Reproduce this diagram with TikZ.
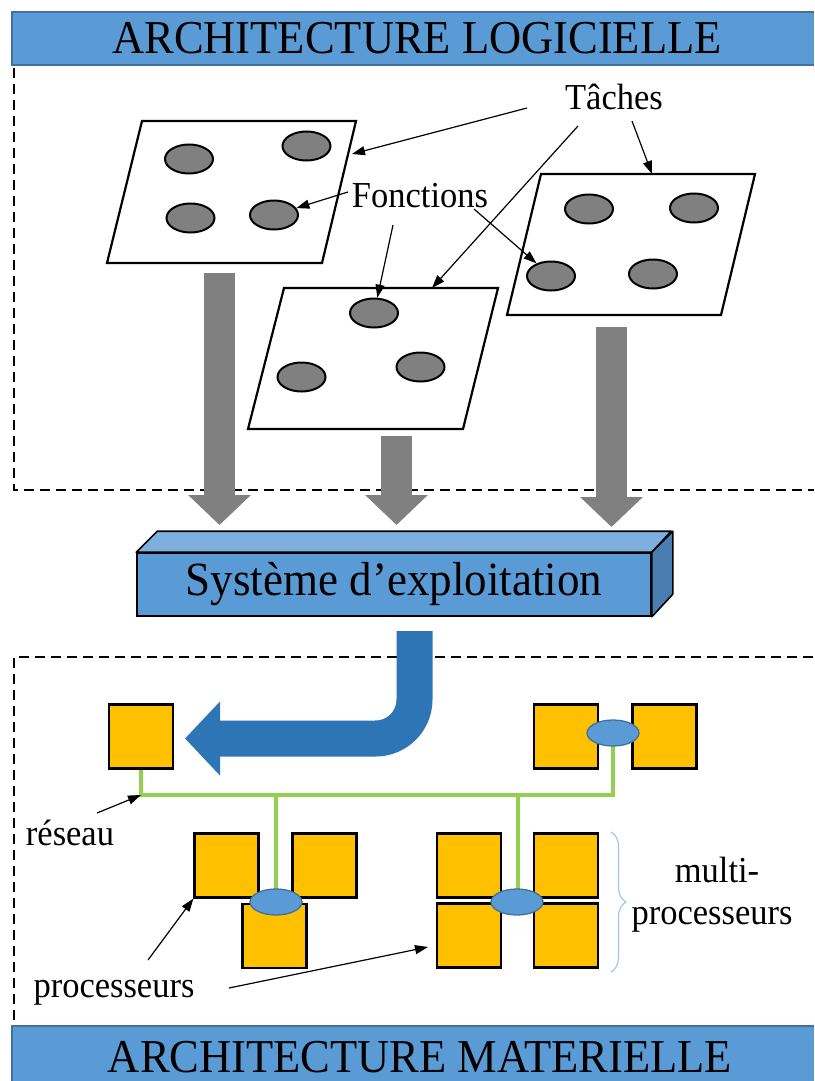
\documentclass[tikz,border=0pt]{standalone}
\usepackage{fontspec}
\setmainfont{Liberation Serif}
\usetikzlibrary{arrows.meta,shapes.geometric,decorations.pathreplacing}
\definecolor{hdr}{HTML}{5B9BD5}
\definecolor{hdrline}{HTML}{41719C}
\definecolor{ostop}{HTML}{7DB0DE}
\definecolor{osside}{HTML}{4A7EB0}
\definecolor{darkblue}{HTML}{2E75B6}
\definecolor{proc}{HTML}{FFC000}
\definecolor{net}{HTML}{92D050}
\definecolor{fgray}{HTML}{808080}
\definecolor{brc}{HTML}{9DC3E6}
\newcommand\tallx[1]{\scalebox{1}[1.06]{#1}}
\begin{document}
\begin{tikzpicture}[x=1pt,y=-1pt,
  hdrfill/.style={fill=hdr},
  hdrline/.style={draw=hdrline,line width=1.2pt},
  hdrtext/.style={font=\fontsize{44.5}{50}\selectfont,inner sep=0pt},
  lbl/.style={font=\fontsize{34.5}{40}\selectfont,inner sep=0pt},
  frame/.style={dash pattern=on 10pt off 6pt,line width=2.2pt},
  taskbox/.style={fill=white,draw=black,line width=2.2pt,line join=miter},
  func/.style={ellipse,fill=fgray,draw=black,line width=2pt,minimum width=48pt,minimum height=29pt,inner sep=0pt},
  arr/.style={line width=1.2pt,-{Triangle[length=13pt,width=9pt]}},
  bigarrow/.style={fgray,line width=31pt,-{Triangle[length=30pt,width=61pt]}},
  cpu/.style={fill=proc,draw=black,line width=2.2pt,minimum size=64pt,inner sep=0pt},
  bus/.style={ellipse,fill=hdr,draw=hdrline,line width=1.3pt,minimum width=52pt,minimum height=26pt,inner sep=0pt},
  netline/.style={net,line width=4.5pt},
]
\useasboundingbox (0,0) rectangle (814,1081);

% ---------- headers ----------
\fill[hdrfill] (12,12) rectangle (814,65);
\draw[hdrline] (814,12) -- (12,12) -- (12,65) -- (814,65);
\node[hdrtext] (hlog) at (417,38) {\tallx{ARCHITECTURE LOGICIELLE}};

\fill[hdrfill] (12,1026) rectangle (814,1081);
\draw[hdrline] (814,1026) -- (12,1026) -- (12,1081);
\node[hdrtext] (hmat) at (420,1057) {\tallx{ARCHITECTURE MATERIELLE}};

% ---------- dashed frames ----------
\draw[frame] (14,68) -- (14,490) -- (814,490);
\draw[frame] (14,1020) -- (14,657) -- (814,657);

% ---------- big gray arrows ----------
\coordinate (g1s) at (219.5,273);
\coordinate (g1e) at (219.5,525);
\coordinate (g2s) at (396.5,436);
\coordinate (g2e) at (396.5,525);
\coordinate (g3s) at (611.5,327);
\coordinate (g3e) at (611.5,527);
\draw[bigarrow] (g1s) -- (g1e);
\draw[bigarrow] (g2s) -- (g2e);
\draw[bigarrow] (g3s) -- (g3e);

% ---------- task planes ----------
\draw[taskbox] (142,121) -- (356,121) -- (322,263) -- (107,263) -- cycle;
\node[func] (e11) at (189,159) {};
\node[func] (e12) at (306.5,146) {};
\node[func] (e13) at (190.5,218) {};
\node[func] (e14) at (274,215) {};

\draw[taskbox] (541,174) -- (755,174) -- (721,315) -- (507,315) -- cycle;
\node[func] (e31) at (589,209) {};
\node[func] (e32) at (694,208) {};
\node[func] (e33) at (551,276) {};
\node[func] (e34) at (653,274) {};

\draw[taskbox] (284,288) -- (498,288) -- (463,429) -- (248,429) -- cycle;
\node[func] (e21) at (374,313) {};
\node[func] (e22) at (301.5,377) {};
\node[func] (e23) at (420.5,367) {};

% ---------- labels and thin arrows (top) ----------
\node[lbl] (tache) at (614,97) {\tallx{Tâches}};
\node[lbl] (fonc) at (420,196) {\tallx{Fonctions}};

\coordinate (ta1) at (527,108);
\coordinate (ta2) at (578,126);
\coordinate (ta3) at (632,121);
\coordinate (tt1) at (352,154);
\coordinate (tt2) at (432,288);
\coordinate (tt3) at (652,174);
\draw[arr] (ta1) -- (tt1);
\draw[arr] (ta2) -- (tt2);
\draw[arr] (ta3) -- (tt3);

\coordinate (fa1) at (348,192);
\coordinate (fa2) at (393,225);
\coordinate (fa3) at (474,209);
\draw[arr] (fa1) -- (e14);
\draw[arr] (fa2) -- (e21);
\draw[arr] (fa3) -- (e33);

% ---------- operating system box ----------
\node[fill=hdr,draw=black,line width=1.6pt,minimum width=514pt,minimum height=63pt,inner sep=0pt,
      font=\fontsize{45}{50}\selectfont] (os) at (394,584.5) {\tallx{Système d’exploitation}};
\draw[fill=ostop,draw=black,line width=1.6pt,line join=round]
  (os.north west) -- ++(21,-21) -- ++(514,0) -- (os.north east) -- cycle;
\draw[fill=osside,draw=black,line width=1.6pt,line join=round]
  (os.north east) -- ++(21,-21) -- ++(0,63) -- (os.south east) -- cycle;

% ---------- blue bent arrow ----------
\coordinate (bs) at (414.5,631);
\coordinate (bc) at (414.5,738.5);
\coordinate (be) at (185,738.5);
\draw[darkblue,line width=36pt,rounded corners=39pt,-{Triangle[length=35pt,width=72pt]}]
  (bs) -- (bc) -- (be);

% ---------- processors ----------
\node[cpu] (p0) at (141,736.5) {};
\node[cpu] (pr1) at (566,736.5) {};
\node[cpu] (pr2) at (664.5,736.5) {};
\node[cpu] (m1) at (226.5,865.5) {};
\node[cpu] (m2) at (324.5,865.5) {};
\node[cpu] (m3) at (274.5,936) {};
\node[cpu] (q1) at (469,865.5) {};
\node[cpu] (q2) at (566,865.5) {};
\node[cpu] (q3) at (469,935.5) {};
\node[cpu] (q4) at (566,935.5) {};

% ---------- network ----------
\coordinate (busL) at (141,795);
\coordinate (busR) at (613,795);
\coordinate (br2) at (276,795);
\coordinate (br3) at (518,795);
\draw[netline] (p0.south) -- (busL) -- (busR) -- (613,735);
\draw[netline] (br2) -- (276,900);
\draw[netline] (br3) -- (518,900);

\node[bus] (b1) at (613,733) {};
\node[bus] (b2) at (276,902) {};
\node[bus] (b3) at (517,902) {};

% ---------- brace & labels (bottom) ----------
\draw[brc,line width=1.1pt,decorate,decoration={brace,amplitude=15pt}] (611,832) -- (611,972);
\node[lbl] (multi) at (717,870) {\tallx{multi-}};
\node[lbl] (procr) at (712,920) {\tallx{processeurs}};

\node[lbl] (reseau) at (70,833) {\tallx{réseau}};
\coordinate (ra) at (97,813);
\draw[arr] (ra) -- (busL);

\node[lbl] (procl) at (114,993) {\tallx{processeurs}};
\coordinate (pa1) at (148,960);
\coordinate (pa2) at (229,988);
\coordinate (pt2) at (428,947);
\draw[arr] (pa1) -- (m1.south west);
\draw[arr] (pa2) -- (pt2);
\end{tikzpicture}
\end{document}
